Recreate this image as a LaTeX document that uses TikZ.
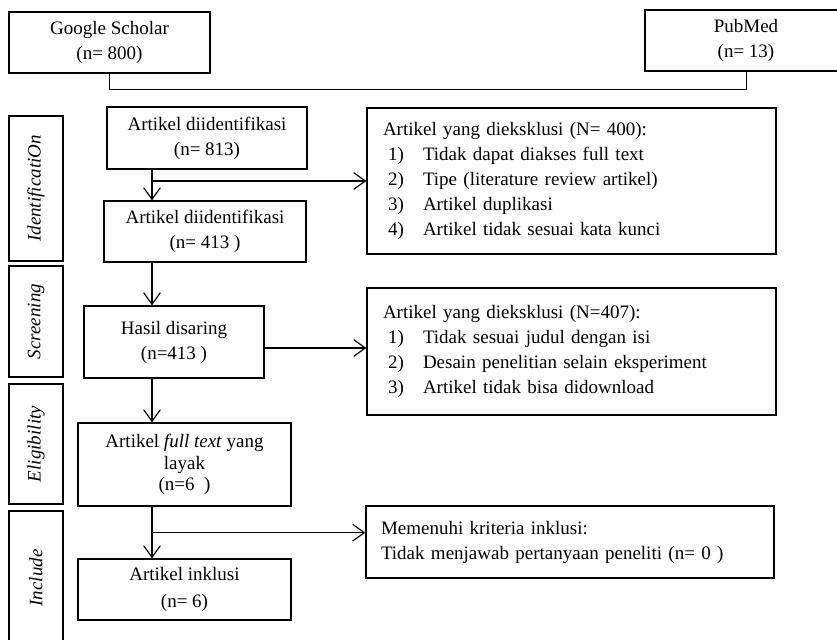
\documentclass[tikz,border=0pt]{standalone}
\usepackage{fontspec}
\setmainfont{Liberation Serif}
\usetikzlibrary{arrows.meta}
\tikzset{
  flowbox/.style={draw, line width=0.8pt, align=center, inner sep=2pt, font=\fontsize{11.4pt}{15pt}\selectfont},
  exclbox/.style={draw, line width=0.8pt, align=left, inner xsep=9.6pt, text width=226.2pt, minimum width=245.4pt, font=\fontsize{11.4pt}{15pt}\selectfont},
  phase/.style={draw, line width=0.8pt, rotate=90, minimum height=32.4pt, inner sep=2pt, font=\fontsize{11.4pt}{15pt}\selectfont\itshape},
  fwd/.style={->, line width=0.7pt, >={Straight Barb[length=7pt,width=10pt]}},
  srcline/.style={line width=0.4pt},
}
\newcommand{\exitem}[2]{\hspace*{3pt}\makebox[21pt][l]{#1}#2}

\begin{document}
\begin{tikzpicture}[x=0.6pt,y=-0.6pt]
\useasboundingbox (0,0) rectangle (837,640);
%Nodes
\node[flowbox, minimum width=120.6pt, minimum height=36.6pt] (scholar) at (109.5,42.5) {Google Scholar\\(n= 800)};
\node[flowbox, minimum width=121.2pt, minimum height=36.6pt] (pubmed) at (746,40.5) {PubMed\\(n= 13)};

\node[flowbox, minimum width=120pt, minimum height=37.2pt] (art1) at (207,138) {Artikel diidentifikasi\\(n= 813)};
\node[flowbox, minimum width=121.2pt, minimum height=36.6pt] (art2) at (205,231.5) {Artikel diidentifikasi\\(n= 413 )};
\node[flowbox, minimum width=108pt, minimum height=43.2pt] (hasil) at (174,342) {Hasil disaring\\(n=413 )};
\node[flowbox, minimum width=127.8pt, minimum height=49.8pt, font=\fontsize{11.4pt}{13pt}\selectfont] (elig) at (184.5,464.5) {Artikel \textit{full text} yang\\layak\\(n=6\ \ )};
\node[flowbox, minimum width=127.8pt, minimum height=36.6pt] (inkl) at (184.5,589.5) {Artikel inklusi\\[1.2pt](n= 6)};

\node[exclbox, minimum height=87.6pt] (exc1) at (571.5,181) {Artikel yang dieksklusi (N= 400):\\
  \exitem{1)}{Tidak dapat diakses full text}\\
  \exitem{2)}{Tipe (literature review artikel)}\\
  \exitem{3)}{Artikel duplikasi}\\
  \exitem{4)}{Artikel tidak sesuai kata kunci}};
\node[exclbox, minimum height=76.2pt] (exc2) at (571.5,351.5) {Artikel yang dieksklusi (N=407):\\
  \exitem{1)}{Tidak sesuai judul dengan isi}\\
  \exitem{2)}{Desain penelitian selain eksperiment}\\
  \exitem{3)}{Artikel tidak bisa didownload}};
\node[exclbox, inner xsep=9pt, text width=226.8pt, minimum width=244.8pt, minimum height=43.2pt] (exc3) at (570,542) {Memenuhi kriteria inklusi:\\Tidak menjawab pertanyaan peneliti (n= 0 )};

\node[phase, minimum width=87pt] (phIdent) at (36,188.5) {IdentificatiOn};
\node[phase, minimum width=66.6pt] (phScreen) at (36,321.5) {Screening};
\node[phase, minimum width=72pt] (phElig) at (36,444) {Eligibility};
\node[phase, minimum width=80.4pt] (phIncl) at (36,578) {Include};

%Lines
\coordinate (mergeY) at (0,89);
\coordinate (trunk) at (152,0);
\draw[srcline] (scholar.south) -- (scholar.south |- mergeY) -- (pubmed.south |- mergeY) -- (pubmed.south);

\draw[fwd] (art1.south -| trunk) -- (art2.north -| trunk);
\draw[fwd] (exc1.west -| trunk) -- (exc1.west);
\draw[fwd] (art2.south -| trunk) -- (hasil.north -| trunk);
\path ([yshift=-3.6pt]hasil.east) coordinate (hsplit);
\draw[fwd] (hsplit) -- (hsplit -| exc2.west);
\draw[fwd] (hasil.south -| trunk) -- (elig.north -| trunk);
\draw[fwd] (elig.south -| trunk) -- (inkl.north -| trunk);
\path (elig.south -| trunk) ++(0,26) coordinate (isplit);
\draw[fwd] (isplit) -- (isplit -| exc3.west);
\end{tikzpicture}
\end{document}
